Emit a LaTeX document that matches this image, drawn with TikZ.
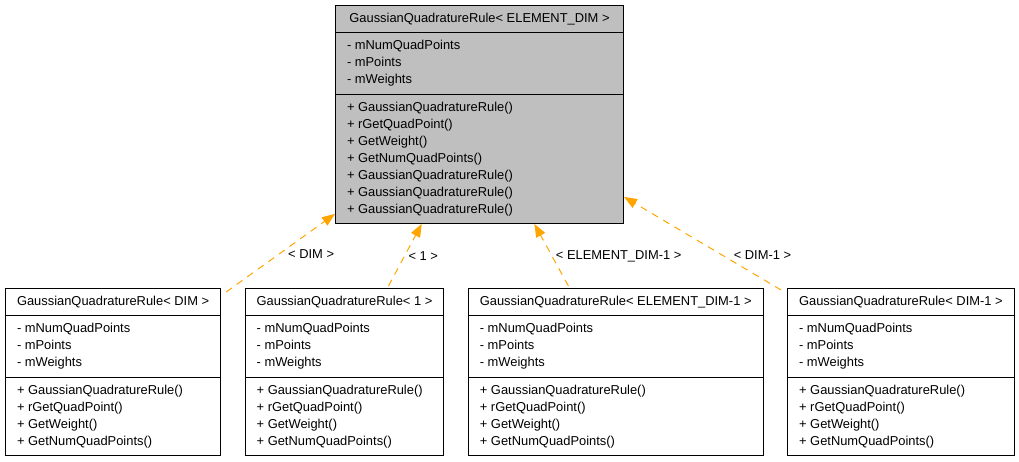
\documentclass[tikz,border=0pt]{standalone}
\usepackage{fontspec}
\setmainfont{Liberation Sans}
\usetikzlibrary{positioning,shapes.multipart,arrows.meta,calc}

\definecolor{classgray}{RGB}{191,191,191}
\definecolor{edgeorange}{RGB}{255,165,0}

\newcommand{\quadattrs}{\strut- mNumQuadPoints\\- mPoints\\- mWeights\strut}
\newcommand{\quadops}{\strut+ GaussianQuadratureRule()\\+ rGetQuadPoint()\\+ GetWeight()\\+ GetNumQuadPoints()\strut}

\begin{document}
\begin{tikzpicture}[x=1pt,y=-1pt]
		\tikzset{class/.style={draw,
							   line width=1pt,
							   fill=white,
							   rectangle split,
							   rectangle split parts=3,
							   rectangle split part align={center,left,left},
							   align=left,
							   inner xsep=11.5pt,
							   inner ysep=4.65pt,
							   font=\fontsize{12.9}{17}\selectfont},
				 inherit/.style={-{Triangle[length=13pt,width=10pt]},
								 draw=edgeorange,
								 line width=1pt,
								 dash pattern=on 7pt off 6pt},
				 tmpl/.style={anchor=west,
							  font=\fontsize{12.9}{17}\selectfont}}
		\useasboundingbox (0,0) rectangle (1019,461);

		% Nodes
		\node[class, fill=classgray, minimum width=288pt, anchor=north west] (rule) at (335,5)
			{\strut GaussianQuadratureRule< ELEMENT\_DIM >\strut
			 \nodepart{two}\quadattrs
			 \nodepart{three}\strut+ GaussianQuadratureRule()\\+ rGetQuadPoint()\\+ GetWeight()\\+ GetNumQuadPoints()\\+ GaussianQuadratureRule()\\+ GaussianQuadratureRule()\\+ GaussianQuadratureRule()\strut};
		\node[class, anchor=north west] (ruledim) at (5,288)
			{\strut GaussianQuadratureRule< DIM >\strut
			 \nodepart{two}\quadattrs
			 \nodepart{three}\quadops};
		\node[class, right=23.5pt of ruledim] (ruleone)
			{\strut GaussianQuadratureRule< 1 >\strut
			 \nodepart{two}\quadattrs
			 \nodepart{three}\quadops};
		\node[class, right=23.5pt of ruleone] (ruleelem)
			{\strut GaussianQuadratureRule< ELEMENT\_DIM-1 >\strut
			 \nodepart{two}\quadattrs
			 \nodepart{three}\quadops};
		\node[class, right=23.5pt of ruleelem] (ruledimm)
			{\strut GaussianQuadratureRule< DIM-1 >\strut
			 \nodepart{two}\quadattrs
			 \nodepart{three}\quadops};

		% Arrows
		\draw[inherit] ($(ruledim.north east)+(5,4)$) -- ($(rule.south west)+(0,-10)$)
			node[tmpl, pos=0.48, xshift=6pt] {< DIM >};
		\draw[inherit] ($(ruleone.north west)!0.72!(ruleone.north east)+(0,-2)$) -- ($(rule.south west)!0.3!(rule.south east)$)
			node[tmpl, pos=0.49] {< 1 >};
		\draw[inherit] ($(ruleelem.north west)!0.34!(ruleelem.north east)+(0,-2)$) -- ($(rule.south west)!0.69!(rule.south east)$)
			node[tmpl, pos=0.48] {< ELEMENT\_DIM-1 >};
		\draw[inherit] ($(ruledimm.north west)+(-6,2)$) -- ($(rule.south east)+(0,-27)$)
			node[tmpl, pos=0.37, xshift=7pt] {< DIM-1 >};
	\end{tikzpicture}
\end{document}
